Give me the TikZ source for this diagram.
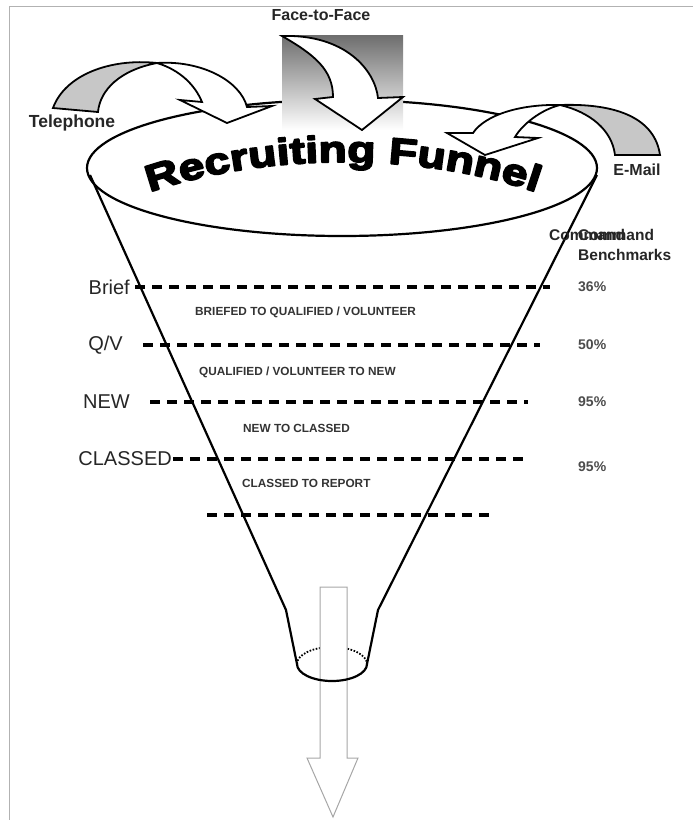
\documentclass[tikz,border=0pt]{standalone}
\usepackage{fontspec}
\setmainfont{Liberation Sans}
\newfontfamily\heavyfont[FakeStretch=1.25]{Liberation Sans Bold}
\usetikzlibrary{decorations.text}
\tikzset{ribbon/.style={
  draw=black,
  line width=1.8pt,
  fill=white
  }
}
\tikzset{ribbon back/.style={
  ribbon,
  fill=black!22
  }
}
\tikzset{stage line/.style={line width=3.2pt, dash pattern=on 10pt off 7pt}}
\tikzset{stage name/.style={anchor=east, font=\fontsize{20}{22}\selectfont, text=black!85}}
\tikzset{stage step/.style={anchor=west, font=\bfseries\fontsize{11.8}{13}\selectfont, text=black!80}}
\tikzset{rate/.style={anchor=west, font=\bfseries\fontsize{14}{16}\selectfont, text=black!70}}
\tikzset{source/.style={font=\bfseries\fontsize{16}{18}\selectfont, text=black!85}}

\begin{document}
\begin{tikzpicture}[x=1pt,y=-1pt,inner sep=0pt]
    \useasboundingbox (0,0) rectangle (693,820);
    \draw[black!30, line width=0.8pt] (9,820) -- (9,6) -- (693,6);

    % funnel body
    \draw[line width=2.2pt] (342,168) ellipse [x radius=255, y radius=68];
    \draw[line width=2.2pt, line join=round] (90,175) -- (286,610) -- (297,664);
    \draw[line width=2.2pt, line join=round] (597,175) -- (378,610) -- (367,664);

    \foreach \lbl/\xl/\y/\xa/\xb/\pct/\yp [count=\n] in {Brief/130/287/135/550/36/287, {Q/V}/123/345/143/540/50/345, NEW/130/402/150/528/95/402, CLASSED/172/459/173/528/95/467} {
        \node[stage name] (stage\n) at (\xl,\y) {\lbl};
        \coordinate (cut\n a) at (\xa,\y);
        \coordinate (cut\n b) at (\xb,\y);
        \draw[stage line] (cut\n a) -- (cut\n b);
        \node[rate] (rate\n) at (578,\yp) {\pct\%};
    }
    \coordinate (cut5a) at (207,515);
    \coordinate (cut5b) at (493,515);
    \draw[stage line] (cut5a) -- (cut5b);

    \node[stage step] (step1) at (195,312) {BRIEFED TO QUALIFIED / VOLUNTEER};
    \node[stage step] (step2) at (199,372) {QUALIFIED / VOLUNTEER TO NEW};
    \node[stage step] (step3) at (243,428) {NEW TO CLASSED};
    \node[stage step] (step4) at (242,483) {CLASSED TO REPORT};

    \node[anchor=west, font=\bfseries\fontsize{15.5}{17}\selectfont, text=black!85] (cmd1) at (549,235) {Command};
    \node[anchor=west, font=\bfseries\fontsize{15.5}{17}\selectfont, text=black!85] (cmd2) at (578,235) {Command};
    \node[anchor=west, font=\bfseries\fontsize{15.5}{17}\selectfont, text=black!85] (bench) at (578,255) {Benchmarks};

    % sources
    \node[source, font=\bfseries\fontsize{17.5}{19}\selectfont] (tel) at (72,123) {Telephone};
    \node[source] (f2f) at (321,15) {Face-to-Face};
    \node[source] (mail) at (637,170) {E-Mail};

    \shade[top color=black!57, bottom color=white] (282,35) rectangle (403,130);
    \draw[ribbon] (282,36) .. controls (345,34) and (375,70) .. (378,98) -- (403,97) -- (362,130) -- (315,99) -- (333,97) .. controls (333,70) and (315,55) .. (282,36) -- cycle;

    \draw[ribbon back] (53,108) .. controls (65,75) and (110,58) .. (157,63) .. controls (120,70) and (100,90) .. (98,112) -- cycle;
    \draw[ribbon] (157,63) .. controls (200,60) and (240,80) .. (247,107) -- (272,106) -- (227,123) -- (180,100) -- (202,102) .. controls (195,85) and (180,70) .. (157,63) -- cycle;

    \draw[ribbon back] (660,155) .. controls (655,120) and (620,103) .. (560,105) .. controls (590,112) and (612,130) .. (615,155) -- cycle;
    \draw[ribbon] (560,105) .. controls (520,104) and (485,115) .. (473,133) -- (447,133) -- (485,155) -- (538,138) -- (515,137) .. controls (522,125) and (540,110) .. (560,105) -- cycle;

    % heavy arched title (glyphs filled and stroked)
    \begin{scope}
        \special{pdf:literal direct 2 Tr 1.8 w 1 j}
        \path[decorate, decoration={text along path, text align=center,
            text={|\heavyfont\fontsize{37}{37}\selectfont|Recruiting Funnel}}]
            (142,195) .. controls (262,151) and (424,151) .. (544,195);
        \special{pdf:literal direct 0 Tr}
    \end{scope}

    % spout and outflow
    \draw[line width=1.8pt, dash pattern=on 1.6pt off 1.6pt] (297,664) arc[start angle=180, end angle=360, x radius=35, y radius=17];
    \draw[black!35, fill=white, line width=1pt] (320,587) -- (347,587) -- (347,758) -- (358,758) -- (333,817) -- (307,758) -- (320,758) -- cycle;
    \draw[line width=2.2pt] (297,664) arc[start angle=180, end angle=0, x radius=35, y radius=17];
\end{tikzpicture}
\end{document}
